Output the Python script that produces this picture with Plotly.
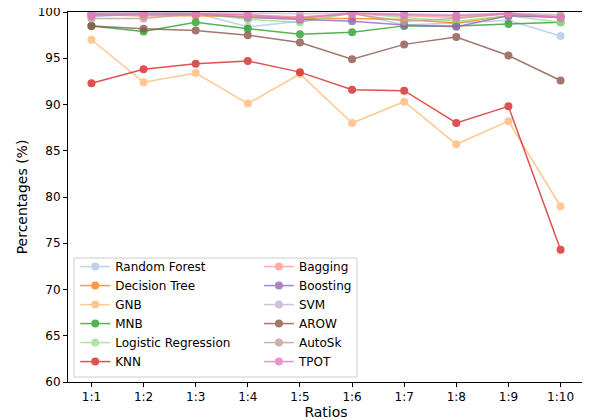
import plotly.graph_objects as go

# x categories
ratios = ["1:1", "1:2", "1:3", "1:4", "1:5", "1:6", "1:7", "1:8", "1:9", "1:10"]

# values (percent)
random_forest = [99.5, 99.8, 99.9, 98.4, 99.0, 99.9, 98.6, 98.8, 99.1, 97.4]
decision_tree = [99.7, 99.6, 99.6, 99.5, 99.3, 99.3, 99.2, 98.8, 99.6, 99.5]
gnb = [97.0, 92.4, 93.4, 90.1, 93.3, 88.0, 90.3, 85.7, 88.2, 79.0]
mnb = [98.5, 97.9, 98.9, 98.2, 97.6, 97.8, 98.5, 98.5, 98.7, 98.9]
logistic_regression = [99.9, 99.9, 99.9, 99.2, 98.9, 99.9, 99.4, 99.0, 99.6, 98.9]
knn = [92.3, 93.8, 94.4, 94.7, 93.5, 91.6, 91.5, 88.0, 89.8, 74.3]
bagging = [99.8, 99.6, 99.8, 99.7, 99.5, 99.8, 99.6, 99.4, 99.8, 99.5]
boosting = [99.8, 99.8, 99.8, 99.4, 99.2, 99.0, 98.6, 98.4, 99.6, 99.4]
svm = [99.9, 99.9, 99.9, 99.9, 99.8, 99.9, 99.8, 99.7, 99.9, 99.7]
arow = [98.5, 98.2, 98.0, 97.5, 96.7, 94.9, 96.5, 97.3, 95.3, 92.6]
autosk = [99.3, 99.3, 99.8, 99.5, 99.4, 99.8, 99.0, 99.3, 99.8, 99.5]
tpot = [99.6, 99.8, 99.8, 99.7, 99.3, 99.9, 99.7, 99.6, 99.8, 99.4]

names = ["Random Forest", "Decision Tree", "GNB", "MNB", "Logistic Regression", "KNN",
         "Bagging", "Boosting", "SVM", "AROW", "AutoSk", "TPOT"]
series = [random_forest, decision_tree, gnb, mnb, logistic_regression, knn,
          bagging, boosting, svm, arow, autosk, tpot]
colors = ["#aec7e8", "#ff7f0e", "#ffbb78", "#2ca02c", "#98df8a", "#d62728",
          "#ff9896", "#9467bd", "#c5b0d5", "#8c564b", "#c49c94", "#e377c2"]

fig = go.Figure()
for i, (name, vals, col) in enumerate(zip(names, series, colors)):
    fig.add_trace(go.Scatter(
        x=list(range(len(ratios))), y=vals, name=name,
        mode="lines+markers", opacity=0.8,
        line=dict(color=col, width=1.5),
        marker=dict(color=col, size=8),
        legend="legend" if i < 6 else "legend2",
    ))

font = dict(family="DejaVu Sans", size=12, color="black")
leg = dict(yanchor="bottom", xanchor="left", y=0.016, bgcolor="rgba(0,0,0,0)",
           borderwidth=0, font=font, tracegroupgap=0, itemwidth=30)

# the page body adds an 8px offset, so margins are shifted to compensate
fig.update_layout(
    width=590, height=420,
    margin=dict(l=60, r=14, t=4, b=46),
    plot_bgcolor="white", paper_bgcolor="white",
    font=font,
    showlegend=True,
    legend=dict(leg, x=0.014),
    legend2=dict(leg, x=0.37),
    # legend frame drawn as one box around both legend columns
    shapes=[dict(type="rect", xref="paper", yref="paper",
                 x0=0.0116, x1=0.56, y0=0.0135, y1=0.335,
                 fillcolor="white",
                 line=dict(color="#cccccc", width=1), layer="above")],
)
fig.update_xaxes(
    range=[-0.45, 9.45], tickmode="array",
    tickvals=list(range(len(ratios))), ticktext=ratios,
    showgrid=False, zeroline=False, showline=True, mirror=True,
    linecolor="black", linewidth=1, ticks="outside", ticklen=4,
    tickcolor="black", automargin=False,
    title=dict(text="Ratios", standoff=2),
)
fig.update_yaxes(
    range=[60, 100], dtick=5,
    showgrid=False, zeroline=False, showline=True, mirror=True,
    linecolor="black", linewidth=1, ticks="outside", ticklen=4,
    tickcolor="black", automargin=False, ticklabeloverflow="allow",
    title=dict(text="Percentages (%)", standoff=6),
)

fig.write_html("out.html")
